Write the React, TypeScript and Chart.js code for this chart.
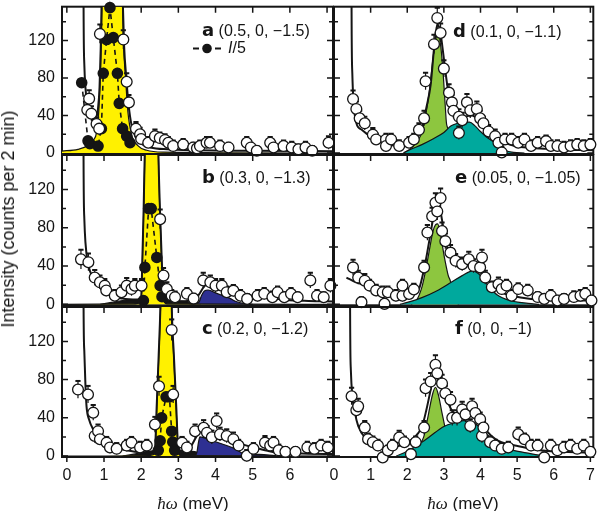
import React, { useEffect, useRef } from 'react';
import { Chart, registerables } from 'chart.js';

Chart.register(...registerables);

const FONT = '"Liberation Sans", Arial, Helvetica, sans-serif';
const INK = '#151515';
const YELLOW = '#FFF100';
const BLUE = '#2E3092';
const GREEN = '#8DC63F';
const TEAL = '#00A99D';

// tick values
const yTickLabels = [0, 40, 80, 120];
const yMinorTicks = [0, 20, 40, 60, 80, 100, 120, 140];
const xTicksLeft = [0, 1, 2, 3, 4, 5, 6];
const xTicksRight = [0, 1, 2, 3, 4, 5, 6, 7];
const xTickMarks = [0, 1, 2, 3, 4, 5, 6, 7];

// ---------- panel a (0.5, 0, -1.5) ----------
const aOpenX = [0.55, 0.60, 0.66, 0.80, 0.87, 0.89, 1.52, 1.61, 1.67, 1.86, 1.97, 2.00, 2.19, 2.37, 2.50, 2.64, 2.73, 2.86, 3.13, 3.40, 3.50, 3.58, 3.76, 3.85, 4.12, 4.35, 4.84, 4.95, 5.11, 5.47, 5.56, 5.83, 6.05, 6.23, 6.42, 6.60, 7.04];
const aOpenY = [46, 58, 42, 31, 26, 127, 121, 76, 54, 26, 20, 15, 11, 18, 16, 14, 11, 7.5, 9, 6, 5, 7.5, 11, 11, 7.5, 6, 11, 6, 2.4, 11, 6, 7.5, 6, 4, 6, 2.4, 11];
const aOpenErr = [8, 9, 8, 7, 7, 10, 10, 9, 8, 7, 7, 6, 6, 7, 6, 6, 6, 6, 6, 5, 5, 6, 6, 6, 6, 5, 6, 5, 5, 6, 6, 6, 6, 5, 6, 5, 7];
const aDotX = [0.40, 0.57, 0.62, 0.84, 0.93, 0.98, 1.07, 1.16, 1.25, 1.36, 1.41, 1.50, 1.61, 1.70];
const aDotY = [75, 13, 10, 7.5, 26, 85, 121, 155, 123, 85, 53, 26, 18, 11];
const aFitX = [0.44, 0.45, 0.47, 0.50, 0.55, 0.62, 0.70, 0.78, 0.84, 0.88, 0.91, 0.94, 1.22, 1.50, 1.54, 1.60, 1.66, 1.74, 1.85, 2.00, 2.25, 2.70, 3.50, 5.00, 7.20];
const aFitY = [400, 160, 95, 70, 52, 41, 36, 37, 48, 70, 110, 170, 600, 170, 115, 80, 52, 30, 17, 10, 6, 4, 3, 2.5, 2];
const aYellowX = [-0.15, 0.30, 0.57, 0.72, 0.80, 0.86, 0.90, 0.93, 0.96, 1.22, 1.48, 1.52, 1.58, 1.64, 1.74, 1.91, 2.15, 2.60, 7.20];
const aYellowY = [2, 4, 8, 14, 22, 45, 80, 120, 190, 600, 190, 120, 80, 45, 20, 8, 3, 1, 0];

// ---------- panel b (0.3, 0, -1.3) ----------
const bOpenX = [0.38, 0.58, 0.75, 0.89, 1.02, 1.06, 1.29, 1.47, 1.61, 1.74, 1.83, 2.01, 2.51, 2.60, 2.69, 2.82, 2.91, 3.23, 3.41, 3.67, 3.86, 4.00, 4.17, 4.30, 4.48, 4.67, 4.85, 5.13, 5.31, 5.53, 5.67, 5.85, 6.03, 6.21, 6.55, 6.73, 6.91, 7.09];
const bOpenY = [47, 44, 28, 23, 19.5, 14.5, 9, 12.7, 19.5, 16, 19.5, 19.5, 89, 30, 16, 9, 7.5, 11, 6, 25, 23, 19.5, 19.5, 12.7, 14.3, 9, 5.7, 9, 11, 7.5, 12.7, 7.5, 11, 7.5, 25, 9, 7.5, 19.5];
const bOpenErr = [10, 9, 8, 7, 7, 6, 6, 7, 8, 7, 7, 7, 10, 8, 7, 6, 6, 6, 5, 8, 7, 7, 7, 6, 6, 6, 5, 6, 6, 6, 6, 5, 6, 5, 8, 6, 5, 7];
const bDotX = [2.06, 2.10, 2.20, 2.27, 2.42, 2.51, 2.56];
const bDotY = [4, 38.6, 100, 100, 49, 19.5, 8];
const bFitX = [0.44, 0.45, 0.47, 0.50, 0.56, 0.62, 0.75, 0.89, 1.16, 1.50, 1.90, 2.00, 2.03, 2.06, 2.10, 2.28, 2.46, 2.50, 2.55, 2.60, 2.70, 3.00, 3.30, 3.55, 3.68, 3.77, 3.95, 4.20, 4.48, 4.90, 5.38, 5.90, 6.50, 7.20];
const bFitY = [400, 150, 90, 65, 45, 35, 25, 19, 10, 6, 5, 8, 45, 90, 165, 700, 165, 105, 50, 8, 4, 3, 4, 10, 18, 21, 19, 16, 12.5, 9.5, 7, 4.5, 3.5, 3];
const bYellowX = [-0.15, 1.80, 1.97, 2.00, 2.03, 2.06, 2.10, 2.28, 2.46, 2.50, 2.55, 2.60, 2.70, 7.20];
const bYellowY = [0, 0.5, 1.5, 3, 40, 85, 160, 700, 160, 100, 45, 4, 0.5, 0];
const bBlackX = [0.90, 1.20, 1.50, 1.80, 2.00, 2.30, 2.60, 2.90, 3.20, 3.45, 3.60];
const bBlackY = [0, 2, 4, 5, 5, 5, 5, 4, 3, 1, 0];
const bBlueX = [3.30, 3.55, 3.62, 3.70, 3.80, 4.00, 4.20, 4.40, 4.55, 4.75, 5.00];
const bBlueY = [0, 2, 9, 14, 15, 12, 9, 6, 3, 1, 0];

// ---------- panel c (0.2, 0, -1.2) ----------
const cOpenX = [0.30, 0.57, 0.71, 0.75, 0.84, 0.89, 1.07, 1.16, 1.34, 1.61, 1.74, 1.97, 2.15, 2.37, 2.48, 2.82, 2.86, 3.10, 3.23, 3.45, 3.68, 3.77, 3.90, 4.03, 4.12, 4.30, 4.48, 4.62, 4.84, 5.02, 5.33, 5.47, 5.56, 5.70, 5.88, 6.15, 6.47, 6.66, 6.84, 7.02];
const cOpenY = [69.6, 64.4, 45.4, 21, 26, 17.6, 14, 9, 7.6, 11, 14, 9, 11, 33, 73, 132, 64.4, 14, 9, 26, 29.6, 24.4, 19.6, 36.6, 22.7, 21, 17.6, 11, 0.3, 7.6, 14, 11, 14, 6, 4.4, 4.4, 9, 7.6, 11, 9];
const cOpenErr = [9, 9, 8, 7, 7, 6, 6, 6, 6, 6, 6, 6, 6, 8, 10, 11, 9, 6, 6, 7, 8, 7, 7, 8, 7, 7, 7, 6, 6, 6, 7, 6, 6, 6, 5, 5, 6, 6, 6, 6];
const cDotX = [2.46, 2.51, 2.55, 2.67, 2.76, 2.82, 2.85, 2.90];
const cDotY = [6, 16, 40, 62, 62, 26, 14.7, 6];
const cFitX = [0.44, 0.45, 0.47, 0.50, 0.53, 0.60, 0.71, 0.85, 1.07, 1.35, 1.61, 2.00, 2.30, 2.37, 2.42, 2.47, 2.52, 2.69, 2.82, 2.88, 2.94, 3.00, 3.10, 3.30, 3.48, 3.58, 3.70, 4.00, 4.30, 4.65, 5.02, 5.40, 5.83, 6.50, 7.20];
const cFitY = [400, 160, 110, 75, 52, 38, 28, 20, 14, 9, 6, 4, 5, 8, 55, 105, 160, 500, 160, 105, 55, 8, 5, 8, 20, 27, 26, 22, 17.6, 13, 9, 5.5, 3, 2.5, 2];
const cYellowX = [-0.15, 2.20, 2.33, 2.37, 2.42, 2.47, 2.52, 2.69, 2.82, 2.88, 2.94, 3.00, 3.05, 7.20];
const cYellowY = [0, 0.5, 1.5, 3, 50, 100, 155, 500, 155, 100, 50, 3, 0.5, 0];
const cBlackX = [1.50, 1.80, 2.10, 2.40, 2.70, 3.00, 3.30, 3.50, 3.60, 3.70];
const cBlackY = [0, 2, 4, 5, 6, 6, 5, 4, 1.5, 0];
const cBlueX = [3.45, 3.50, 3.54, 3.58, 3.70, 4.00, 4.30, 4.55, 4.70, 5.00, 5.30, 5.60, 6.00];
const cBlueY = [0, 4, 14, 20, 19, 15, 11, 7, 3.5, 2, 1.5, 0.5, 0];

// ---------- panel d (0.1, 0, -1.1) ----------
const dOpenX = [0.52, 0.61, 0.70, 0.84, 1.06, 1.15, 1.42, 1.42, 1.56, 1.78, 2.05, 2.18, 2.32, 2.46, 2.50, 2.73, 2.82, 2.91, 3.00, 3.14, 3.22, 3.26, 3.41, 3.41, 3.50, 3.63, 3.72, 3.90, 3.99, 4.08, 4.22, 4.40, 4.49, 4.58, 4.67, 4.85, 5.03, 5.20, 5.38, 5.56, 5.79, 5.92, 6.10, 6.28, 6.46, 6.64, 6.82, 7.00];
const dOpenY = [57.6, 47, 37, 31.7, 19.6, 14.5, 14.5, 7.6, 14.5, 7.6, 11, 14.5, 24.8, 37, 76.5, 116, 144, 128, 90, 64.4, 54, 45, 38.6, 21.4, 35, 54, 45.5, 47, 37, 31.7, 23, 18, 11, 0.7, 14.5, 14.5, 11, 14.5, 7.6, 11, 12.7, 7.6, 7.6, 6, 7.6, 9, 7.6, 9];
const dOpenErr = [9, 8, 8, 7, 7, 6, 6, 6, 6, 6, 6, 6, 7, 8, 9, 10, 11, 10, 9, 9, 8, 8, 8, 7, 8, 9, 8, 8, 8, 7, 7, 7, 6, 6, 6, 6, 6, 6, 6, 6, 6, 6, 6, 6, 6, 6, 6, 6];
const dFitX = [0.47, 0.48, 0.50, 0.53, 0.61, 0.75, 0.88, 1.10, 1.33, 1.78, 2.14, 2.30, 2.41, 2.52, 2.64, 2.74, 2.82, 2.90, 2.97, 3.09, 3.22, 3.35, 3.50, 3.65, 3.77, 3.95, 4.13, 4.49, 4.94, 5.40, 5.84, 6.40, 7.10];
const dFitY = [400, 150, 85, 56, 32, 25, 21, 15, 11, 7.5, 11, 18, 28, 48, 73, 115, 137, 130, 110, 73, 45.5, 40, 38.6, 39.5, 40, 35, 28, 14.5, 7.5, 5.5, 4.5, 3.5, 3];
const dGreenX = [1.90, 2.10, 2.30, 2.40, 2.50, 2.60, 2.70, 2.78, 2.84, 2.92, 2.98, 3.03, 3.07, 3.10, 3.20, 3.40];
const dGreenY = [0, 5, 14, 22, 40, 65, 100, 122, 128, 112, 85, 55, 32, 27, 10, 0];
const dTealX = [1.90, 2.10, 2.40, 2.70, 3.00, 3.20, 3.40, 3.55, 3.70, 3.85, 4.00, 4.20, 4.40, 4.55, 4.70, 4.90, 5.20];
const dTealY = [0, 4, 9, 15, 22, 29, 32, 33, 33, 29, 23, 16, 11, 7, 2.5, 0.8, 0];

// ---------- panel e (0.05, 0, -1.05) ----------
const eOpenX = [0.52, 0.66, 0.75, 0.84, 0.97, 1.15, 1.33, 1.38, 1.47, 1.69, 1.87, 1.87, 2.05, 2.18, 2.46, 2.55, 2.68, 2.77, 2.82, 2.91, 2.95, 3.04, 3.18, 3.32, 3.50, 3.68, 3.81, 3.99, 4.04, 4.13, 4.31, 4.49, 4.58, 4.71, 4.85, 5.03, 5.29, 5.56, 5.74, 5.92, 6.10, 6.28, 6.55, 6.73, 6.86, 7.03];
const eOpenY = [38.6, 28, 2.3, 24.7, 19.6, 14.5, 12.7, 0.5, 12.7, 9, 9, 19.6, 10.8, 15.6, 38.6, 75, 92, 106, 97, 111, 76.6, 66, 54, 45.5, 42, 47, 40, 38.6, 49, 28, 17.9, 21, 16, 19.6, 9, 16, 14.5, 7.6, 5.7, 9, 4, 5.7, 7.6, 9, 11, 4];
const eOpenErr = [8, 7, 5, 7, 6, 6, 6, 5, 6, 6, 6, 6, 6, 6, 7, 8, 9, 10, 9, 10, 9, 8, 8, 7, 7, 8, 7, 7, 8, 7, 6, 7, 6, 6, 6, 6, 6, 5, 5, 6, 5, 5, 6, 6, 6, 5];
const eFitX = [0.34, 0.60, 0.88, 1.15, 1.42, 1.70, 1.96, 2.15, 2.32, 2.46, 2.55, 2.64, 2.72, 2.80, 2.87, 2.95, 3.05, 3.14, 3.25, 3.40, 3.59, 3.77, 3.90, 4.04, 4.20, 4.40, 4.60, 4.85, 5.38, 6.00, 7.10];
const eFitY = [28, 23, 19.5, 15, 11, 9.5, 9, 11, 16, 37, 55, 75, 92, 102, 102, 88, 65, 54, 44, 39.5, 42, 42, 38, 33.4, 25, 17.9, 12, 9, 5.7, 4.5, 4];
const eGreenX = [2.10, 2.25, 2.40, 2.50, 2.62, 2.70, 2.77, 2.83, 2.92, 3.02, 3.12, 3.18, 3.25, 3.40];
const eGreenY = [0, 4, 18, 35, 60, 76, 83, 84, 70, 48, 30, 24, 10, 0];
const eTealX = [1.80, 2.00, 2.40, 2.80, 3.20, 3.50, 3.80, 4.00, 4.20, 4.45, 4.80, 5.30, 5.60];
const eTealY = [0, 2, 7, 14, 23, 30, 35, 30, 20, 10, 4, 1, 0];

// ---------- panel f (0, 0, -1) ----------
const fOpenX = [0.48, 0.61, 0.66, 0.84, 0.93, 1.06, 1.20, 1.33, 1.47, 1.60, 1.78, 1.92, 2.10, 2.23, 2.46, 2.50, 2.64, 2.77, 2.82, 2.95, 3.04, 3.18, 3.23, 3.36, 3.50, 3.59, 3.72, 3.77, 3.86, 3.99, 4.04, 4.08, 4.26, 4.40, 4.58, 4.76, 5.03, 5.20, 5.38, 5.56, 5.74, 5.92, 6.10, 6.28, 6.46, 6.64, 6.82, 7.00];
const fOpenY = [62.6, 48, 52, 29.8, 17.7, 14.5, 11, -1.4, 5.9, 11, 19.4, 14.5, 2, 14.5, 29.8, 71, 78, 95.5, 86.6, 76, 65.6, 59, 40, 40, 48.8, 43.6, 31.5, 52, 45, 38.6, 21, 29.8, 14.5, 11, 7.6, 9, 22.8, 17.7, 11, 11, -1.4, 11, 6, 9, 11, 7.6, 11, 4.4];
const fOpenErr = [9, 8, 8, 7, 6, 6, 6, 5, 5, 6, 7, 6, 5, 6, 7, 9, 9, 10, 9, 9, 8, 8, 8, 8, 8, 8, 7, 8, 8, 7, 7, 7, 6, 6, 6, 6, 7, 6, 6, 6, 5, 6, 5, 6, 6, 5, 6, 5];
const fFitX = [0.43, 0.44, 0.46, 0.50, 0.57, 0.66, 0.88, 1.10, 1.33, 1.55, 1.78, 2.00, 2.14, 2.30, 2.41, 2.52, 2.64, 2.72, 2.78, 2.86, 2.95, 3.09, 3.27, 3.50, 3.77, 3.95, 4.13, 4.30, 4.49, 4.70, 4.94, 5.38, 5.84, 6.40, 7.10];
const fFitY = [400, 150, 90, 63, 45.4, 31.5, 17.7, 12, 9, 9, 10.7, 14, 17.7, 24, 31.5, 48, 69.6, 85, 92, 88, 80, 59, 45.4, 43.6, 41.5, 35, 28, 21, 15.9, 13, 11, 7.6, 5.2, 4.2, 3.5];
const fGreenX = [2.30, 2.45, 2.55, 2.62, 2.70, 2.77, 2.85, 2.95, 3.03, 3.10, 3.20];
const fGreenY = [10, 20, 38, 52, 66, 72, 64, 45, 30, 15, 0];
const fTealX = [1.70, 2.00, 2.30, 2.60, 3.00, 3.30, 3.55, 3.80, 4.05, 4.30, 4.55, 4.90, 5.30, 5.60, 5.90];
const fTealY = [0, 5, 12, 20, 31, 35, 37, 35, 28, 18, 10, 6, 3, 1, 0];

type Area = { x: number[]; y: number[]; color: string };
type PanelDef = {
  openX: number[]; openY: number[]; openErr: number[];
  dotX?: number[]; dotY?: number[];
  fitX: number[]; fitY: number[];
  areas: Area[];
};

const panelA: PanelDef = { openX: aOpenX, openY: aOpenY, openErr: aOpenErr, dotX: aDotX, dotY: aDotY, fitX: aFitX, fitY: aFitY, areas: [{ x: aYellowX, y: aYellowY, color: YELLOW }] };
const panelB: PanelDef = { openX: bOpenX, openY: bOpenY, openErr: bOpenErr, dotX: bDotX, dotY: bDotY, fitX: bFitX, fitY: bFitY, areas: [{ x: bBlackX, y: bBlackY, color: INK }, { x: bBlueX, y: bBlueY, color: BLUE }, { x: bYellowX, y: bYellowY, color: YELLOW }] };
const panelC: PanelDef = { openX: cOpenX, openY: cOpenY, openErr: cOpenErr, dotX: cDotX, dotY: cDotY, fitX: cFitX, fitY: cFitY, areas: [{ x: cBlackX, y: cBlackY, color: INK }, { x: cBlueX, y: cBlueY, color: BLUE }, { x: cYellowX, y: cYellowY, color: YELLOW }] };
const panelD: PanelDef = { openX: dOpenX, openY: dOpenY, openErr: dOpenErr, fitX: dFitX, fitY: dFitY, areas: [{ x: dGreenX, y: dGreenY, color: GREEN }, { x: dTealX, y: dTealY, color: TEAL }] };
const panelE: PanelDef = { openX: eOpenX, openY: eOpenY, openErr: eOpenErr, fitX: eFitX, fitY: eFitY, areas: [{ x: eGreenX, y: eGreenY, color: GREEN }, { x: eTealX, y: eTealY, color: TEAL }] };
const panelF: PanelDef = { openX: fOpenX, openY: fOpenY, openErr: fOpenErr, fitX: fFitX, fitY: fFitY, areas: [{ x: fGreenX, y: fGreenY, color: GREEN }, { x: fTealX, y: fTealY, color: TEAL }] };

const pts = (xs: number[], ys: number[]) => xs.map((x, i) => ({ x, y: ys[i] }));

function buildDatasets(p: PanelDef) {
  const ds: any[] = [];
  ds.push({
    label: 'data', data: pts(p.openX, p.openY), errs: p.openErr, showLine: false,
    pointRadius: 5.4, pointBackgroundColor: '#fff', pointBorderColor: INK, pointBorderWidth: 1.3,
    order: 0, clip: 8,
  });
  if (p.dotX && p.dotY) {
    ds.push({
      label: 'I/5', data: pts(p.dotX, p.dotY), borderColor: INK, borderWidth: 1.6, borderDash: [5, 4],
      pointRadius: 5, pointBackgroundColor: INK, pointBorderColor: INK, order: 1, clip: 8, tension: 0,
    });
  }
  ds.push({
    label: 'fit', data: pts(p.fitX, p.fitY), borderColor: INK, borderWidth: 2, pointRadius: 0,
    cubicInterpolationMode: 'monotone', order: 2,
  });
  p.areas.forEach((a, i) => {
    ds.push({
      label: 'comp' + i, data: pts(a.x, a.y), fill: 'origin', backgroundColor: a.color,
      borderColor: INK, borderWidth: 1.2, pointRadius: 0, cubicInterpolationMode: 'monotone', order: 10 - i,
    });
  });
  return ds;
}

const framePlugin = {
  id: 'frame',
  beforeDatasetsDraw(chart: any, _args: any, opts: any) {
    const { ctx, chartArea } = chart;
    const { left, right, top, bottom } = chartArea;
    const xs = chart.scales.x;
    const ys = chart.scales.y;
    ctx.save();
    ctx.strokeStyle = INK;
    ctx.lineWidth = 2;
    ctx.strokeRect(left, top, right - left, bottom - top);
    ctx.lineWidth = 1.5;
    ctx.beginPath();
    for (const v of xTickMarks) {
      const px = xs.getPixelForValue(v);
      if (px < left + 2 || px > right - 2) continue;
      ctx.moveTo(px, top);
      ctx.lineTo(px, top + 6);
      if (opts && opts.bottomTicks) {
        ctx.moveTo(px, bottom);
        ctx.lineTo(px, bottom + 5);
      }
    }
    for (const v of yMinorTicks) {
      const py = ys.getPixelForValue(v);
      if (py < top + 2) continue;
      const len = v % 40 === 0 ? 6 : 4;
      ctx.moveTo(left, py);
      ctx.lineTo(left + len, py);
      ctx.moveTo(right, py);
      ctx.lineTo(right - len, py);
    }
    ctx.stroke();
    ctx.restore();
  },
};

const errPlugin = {
  id: 'errbars',
  beforeDatasetDraw(chart: any, args: any) {
    const ds: any = chart.data.datasets[args.index];
    if (!ds.errs) return;
    const ys = chart.scales.y;
    const { ctx, chartArea } = chart;
    ctx.save();
    ctx.beginPath();
    ctx.rect(chartArea.left - 8, chartArea.top - 2, chartArea.right - chartArea.left + 16, chartArea.bottom - chartArea.top + 10);
    ctx.clip();
    ctx.strokeStyle = INK;
    args.meta.data.forEach((pt: any, i: number) => {
      const d = ds.data[i];
      const e = ds.errs[i];
      const t = ys.getPixelForValue(d.y + e);
      const b = ys.getPixelForValue(d.y - e);
      ctx.lineWidth = 1.2;
      ctx.beginPath();
      ctx.moveTo(pt.x, b);
      ctx.lineTo(pt.x, t);
      ctx.stroke();
      ctx.lineWidth = 2;
      ctx.beginPath();
      ctx.moveTo(pt.x - 2.6, t);
      ctx.lineTo(pt.x + 2.6, t);
      ctx.stroke();
    });
    ctx.restore();
  },
};

type Box = { l: number; t: number; w: number; h: number; pl: number; pr: number; pt: number; pb: number };

function PanelChart({ p, box, left, bottom }: { p: PanelDef; box: Box; left: boolean; bottom: boolean }) {
  const ref = useRef<HTMLCanvasElement>(null);
  useEffect(() => {
    const xTicks = left ? xTicksLeft : xTicksRight;
    const chart = new Chart(ref.current as HTMLCanvasElement, {
      type: 'line',
      data: { datasets: buildDatasets(p) },
      options: {
        responsive: false,
        animation: false,
        events: [],
        layout: { padding: { left: box.pl, right: box.pr, top: box.pt, bottom: box.pb } },
        plugins: {
          legend: { display: false },
          tooltip: { enabled: false },
          frame: { bottomTicks: bottom },
        } as any,
        scales: {
          x: {
            type: 'linear',
            min: left ? -0.13 : 0,
            max: left ? 7.16 : 7.08,
            display: bottom,
            afterBuildTicks: (s: any) => { s.ticks = xTicks.map((v) => ({ value: v })); },
            afterFit: (s: any) => { s.height = bottom ? 33 : 0; s.paddingLeft = 0; s.paddingRight = 0; },
            grid: { display: false, drawTicks: false },
            border: { display: false },
            ticks: { padding: 9, color: INK, maxRotation: 0, font: { family: FONT, size: 16 } },
          },
          y: {
            type: 'linear',
            min: -1,
            max: 156,
            display: left,
            afterBuildTicks: (s: any) => { s.ticks = yTickLabels.map((v) => ({ value: v })); },
            afterFit: (s: any) => { s.width = left ? 62 : 0; s.paddingTop = 0; s.paddingBottom = 0; },
            grid: { display: false, drawTicks: false },
            border: { display: false },
            ticks: { padding: 7, color: INK, font: { family: FONT, size: 16 } },
          },
        },
      } as any,
      plugins: [framePlugin, errPlugin],
    });
    return () => chart.destroy();
  }, []);
  return (
    <canvas
      ref={ref}
      width={box.w}
      height={box.h}
      style={{ position: 'absolute', left: box.l, top: box.t, width: box.w, height: box.h }}
    />
  );
}

const colL = { l: 0, w: 340, pl: 0, pr: 7 };
const colR = { l: 320, w: 280, pl: 14, pr: 4 };
const rowA = { t: 0, h: 162, pt: 2, pb: 8 };
const rowB = { t: 148, h: 164, pt: 7, pb: 6 };
const rowC = { t: 300, h: 190, pt: 7, pb: 0 };

const mk = (c: any, r: any): Box => ({ ...c, ...r });

const textBase: React.CSSProperties = { position: 'absolute', fontFamily: FONT, color: INK, whiteSpace: 'nowrap', lineHeight: 1 };

function PanelLabel({ letter, coords, x, y }: { letter: string; coords: string; x: number; y: number }) {
  return (
    <div style={{ ...textBase, left: x, top: y, transform: 'translateY(-50%)', fontSize: 16 }}>
      <span style={{ fontFamily: '"DejaVu Sans", sans-serif', fontWeight: 'bold', fontSize: 18 }}>{letter}</span>
      {' ' + coords}
    </div>
  );
}

export default function App() {
  return (
    <div style={{ position: 'absolute', left: 0, top: 0, width: 600, height: 511, background: '#fff', overflow: 'hidden' }}>
      <PanelChart p={panelA} box={mk(colL, rowA)} left={true} bottom={false} />
      <PanelChart p={panelD} box={mk(colR, rowA)} left={false} bottom={false} />
      <PanelChart p={panelB} box={mk(colL, rowB)} left={true} bottom={false} />
      <PanelChart p={panelE} box={mk(colR, rowB)} left={false} bottom={false} />
      <PanelChart p={panelC} box={mk(colL, rowC)} left={true} bottom={true} />
      <PanelChart p={panelF} box={mk(colR, rowC)} left={false} bottom={true} />

      <PanelLabel letter="a" coords="(0.5, 0, −1.5)" x={202} y={30} />
      <PanelLabel letter="b" coords="(0.3, 0, −1.3)" x={202} y={177} />
      <PanelLabel letter="c" coords="(0.2, 0, −1.2)" x={202} y={328} />
      <PanelLabel letter="d" coords="(0.1, 0, −1.1)" x={453} y={31} />
      <PanelLabel letter="e" coords="(0.05, 0, −1.05)" x={455} y={177} />
      <PanelLabel letter="f" coords="(0, 0, −1)" x={455} y={328} />

      <svg style={{ position: 'absolute', left: 191, top: 43 }} width={32} height={11}>
        <line x1={2} y1={5.5} x2={8} y2={5.5} stroke={INK} strokeWidth={2} />
        <circle cx={16} cy={5.5} r={4.8} fill={INK} />
        <line x1={24} y1={5.5} x2={30} y2={5.5} stroke={INK} strokeWidth={2} />
      </svg>
      <div style={{ ...textBase, left: 228, top: 48, transform: 'translateY(-50%)', fontSize: 16 }}>
        <i>I</i>/5
      </div>

      <div
        style={{
          ...textBase, left: 8, top: 219, fontSize: 18,
          transform: 'translate(-50%, -50%) rotate(-90deg)',
        }}
      >
        Intensity (counts per 2 min)
      </div>

      <div style={{ ...textBase, left: 193, top: 503, fontSize: 17, transform: 'translate(-50%, -50%)' }}>
        <i style={{ fontFamily: '"Liberation Serif", serif' }}>ħω</i> (meV)
      </div>
      <div style={{ ...textBase, left: 463, top: 503, fontSize: 17, transform: 'translate(-50%, -50%)' }}>
        <i style={{ fontFamily: '"Liberation Serif", serif' }}>ħω</i> (meV)
      </div>
    </div>
  );
}
